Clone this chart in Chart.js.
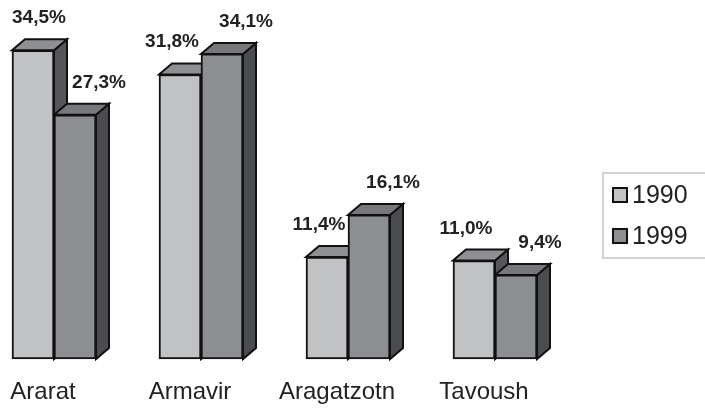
<!DOCTYPE html>
<html>
<head>
<meta charset="utf-8">
<script src="https://cdn.jsdelivr.net/npm/chart.js@4/dist/chart.umd.min.js"></script>
<style>
  body { margin: 0; background: #fff; }
  canvas { display: block; }
</style>
</head>
<body>
<canvas id="chart" width="705" height="408"></canvas>
<script>
const regions = ["Ararat", "Armavir", "Aragatzotn", "Tavoush"];
const years = ["1990", "1999"];
const share1990 = [34.5, 31.8, 11.4, 11.0];
const share1999 = [27.3, 34.1, 16.1, 9.4];

// face colours for each series: front, top, side
const frontColors = ["#c1c2c4", "#8c8e92"];
const topColors = ["#8f9093", "#77787c"];
const sideColors = ["#55565a", "#4b4c50"];

const depthX = 13;
const depthY = 11;
const textColor = "#222";

function fmt(v) {
  return v.toFixed(1).replace(".", ",") + "%";
}

function poly(ctx, pts, fill) {
  ctx.beginPath();
  ctx.moveTo(pts[0][0], pts[0][1]);
  for (let i = 1; i < pts.length; i++) ctx.lineTo(pts[i][0], pts[i][1]);
  ctx.closePath();
  ctx.fillStyle = fill;
  ctx.fill();
  ctx.lineWidth = 2;
  ctx.strokeStyle = "#111";
  ctx.lineJoin = "miter";
  ctx.stroke();
}

// top and side faces go under the fronts that Chart.js draws
const boxFaces = {
  id: "boxFaces",
  beforeDatasetsDraw(chart) {
    const ctx = chart.ctx;
    ctx.save();
    for (let j = 0; j < regions.length; j++) {
      chart.data.datasets.forEach((ds, i) => {
        const bar = chart.getDatasetMeta(i).data[j];
        const p = bar.getProps(["x", "y", "base", "width"], true);
        const l = p.x - p.width / 2;
        const r = p.x + p.width / 2;
        poly(ctx, [[r, p.y], [r + depthX, p.y - depthY], [r + depthX, p.base - depthY], [r, p.base]], sideColors[i]);
        poly(ctx, [[l, p.y], [r, p.y], [r + depthX, p.y - depthY], [l + depthX, p.y - depthY]], topColors[i]);
      });
    }
    ctx.restore();
  },
  afterDatasetsDraw(chart) {
    const ctx = chart.ctx;
    ctx.save();
    ctx.font = "bold 19px 'Liberation Sans', Arial, sans-serif";
    ctx.fillStyle = textColor;
    ctx.textAlign = "center";
    ctx.textBaseline = "alphabetic";
    chart.data.datasets.forEach((ds, i) => {
      chart.getDatasetMeta(i).data.forEach((bar, j) => {
        const p = bar.getProps(["x", "y"], true);
        const text = fmt(ds.data[j]);
        const half = ctx.measureText(text).width / 2;
        const shift = i === 0 ? -8 : 24;
        // keep the value inside the canvas
        const x = Math.max(p.x + shift, half + 12);
        ctx.fillText(text, x, p.y - 27);
      });
    });
    ctx.restore();
  },
  afterDraw(chart) {
    const ctx = chart.ctx;
    ctx.save();
    ctx.strokeStyle = "#d6d2d2";
    ctx.lineWidth = 2;
    ctx.strokeRect(603, 173, 110, 85);
    ctx.font = "25px 'Liberation Sans', Arial, sans-serif";
    ctx.textBaseline = "middle";
    chart.data.datasets.forEach((ds, i) => {
      const y = 195 + i * 41;
      ctx.fillStyle = ds.backgroundColor;
      ctx.fillRect(613, y - 7, 14, 14);
      ctx.lineWidth = 2;
      ctx.strokeStyle = "#111";
      ctx.strokeRect(613, y - 7, 14, 14);
      ctx.fillStyle = textColor;
      ctx.fillText(ds.label, 632, y + 1);
    });
    ctx.restore();
  }
};

new Chart(document.getElementById("chart"), {
  type: "bar",
  data: {
    labels: regions,
    datasets: [
      { label: years[0], data: share1990, backgroundColor: frontColors[0] },
      { label: years[1], data: share1999, backgroundColor: frontColors[1] }
    ]
  },
  options: {
    responsive: false,
    animation: false,
    layout: { padding: { left: 54, right: 210, top: 19, bottom: 0 } },
    datasets: {
      bar: {
        barThickness: 42,
        borderWidth: 2,
        borderColor: "#111",
        borderSkipped: false,
        clip: false
      }
    },
    scales: {
      x: {
        offset: false,
        grid: { display: false, drawTicks: false },
        border: { display: false },
        ticks: {
          color: textColor,
          font: { family: "'Liberation Sans', Arial, sans-serif", size: 24 },
          padding: 19,
          labelOffset: -11,
          maxRotation: 0,
          autoSkip: false
        },
        afterFit(scale) { scale.height = 49; }
      },
      y: { display: false, min: 0, max: 38 }
    },
    plugins: {
      legend: { display: false },
      tooltip: { enabled: false }
    }
  },
  plugins: [boxFaces]
});
</script>
</body>
</html>
